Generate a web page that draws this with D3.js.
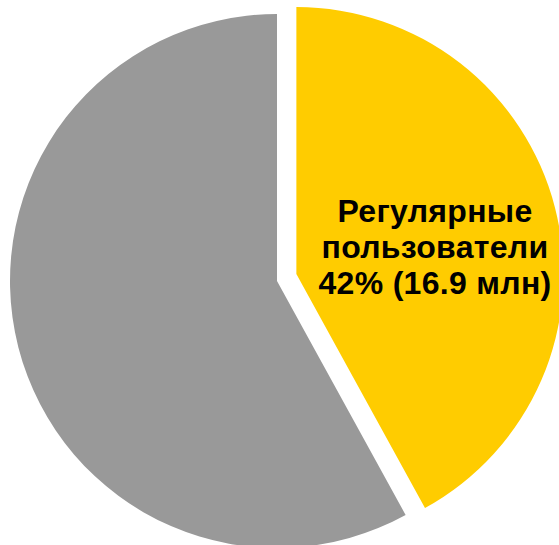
<!DOCTYPE html>
<html><head><meta charset="utf-8">
<script src="https://cdn.jsdelivr.net/npm/d3@7"></script>
<style>html,body{margin:0;padding:0;background:#fff;}svg{display:block;}</style>
</head><body>
<script>
const categories = ["Регулярные пользователи", "Прочие"];
const values = [42, 58];
const labelLines = ["Регулярные", "пользователи", "42% (16.9 млн)"];
const colors = ["#FFCC00", "#999999"];

const W = 559, H = 545;
const cx = 277, cy = 281, R = 267, explode = 20;

const svg = d3.select("body").append("svg").attr("width", W).attr("height", H);
const g = svg.append("g").attr("transform", `translate(${cx},${cy})`);

const pie = d3.pie().sort(null).value(d => d)(values);
const arc = d3.arc().innerRadius(0).outerRadius(R);
const color = d3.scaleOrdinal().domain(categories).range(colors);

g.selectAll("path").data(pie).join("path")
  .attr("d", arc)
  .attr("fill", (d, i) => color(categories[i]))
  .attr("transform", (d, i) => {
    if (i !== 0) return null;
    const a = (d.startAngle + d.endAngle) / 2;
    return `translate(${explode * Math.sin(a)},${-explode * Math.cos(a) - 2})`;
  });

const t = svg.append("text")
  .attr("x", 435).attr("y", 222)
  .attr("text-anchor", "middle")
  .attr("font-family", "Liberation Sans, Arial, sans-serif")
  .attr("font-weight", "bold")
  .attr("font-size", 32)
  .attr("letter-spacing", 0.3)
  .attr("fill", "#000");
labelLines.forEach((l, i) => {
  t.append("tspan").attr("x", 435).attr("dy", i === 0 ? 0 : 36).text(l);
});
</script>
</body></html>
